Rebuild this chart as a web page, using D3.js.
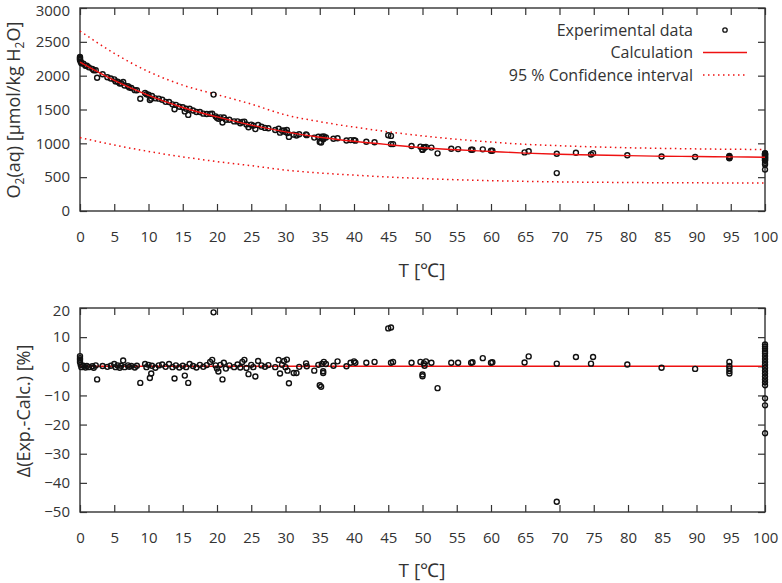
<!DOCTYPE html>
<html>
<head>
<meta charset="utf-8">
<script src="https://cdn.jsdelivr.net/npm/d3@7"></script>
<style>
  body { margin: 0; background: #fff; }
  svg text { font-family: "Open Sans", sans-serif; fill: #333; }
  .axis path { display: none; }
  .axis line { stroke: #333; stroke-width: 1.2; }
</style>
</head>
<body>
<svg id="chart" width="782" height="583"></svg>
<script>
// calculated solubility curve and 95 % band (every 5 degC)
var gridT   = [0,5,10,15,20,25,30,35,40,45,50,55,60,65,70,75,80,85,90,95,100];
var calcO2  = [2200,1930,1710,1530,1390,1270,1170,1090,1030,980,935,905,880,855,838,828,818,810,805,800,795];
var ciUpper = [2660,2330,2060,1860,1720,1580,1420,1320,1240,1170,1110,1060,1020,985,965,948,935,925,918,912,910];
var ciLower = [1085,975,880,800,730,670,605,562,530,503,480,462,448,438,430,425,421,418,416,415,414];

// experimental points: temperature, O2(aq), deviation in %
var expT = [0,0,0,0,0.1,0.2,0.5,0.8,1.0,1.3,1.8,2.0,2.3,2.5,3.3,4.0,4.5,5.0,5.2,5.5,
  5.8,6.0,6.3,6.5,7.0,7.2,7.5,8.0,8.3,8.8,9.5,9.7,10.0,10.2,10.4,10.5,11.0,11.5,12.0,12.5,
  13.0,13.5,13.8,14.0,14.5,15.0,15.3,15.5,15.8,16.0,16.5,17.0,17.5,18.0,18.5,19.0,19.3,19.5,19.8,20.0,
  20.2,20.5,20.8,21.0,21.3,21.8,22.5,23.0,23.4,23.7,24.0,24.3,24.6,25.0,25.3,25.6,26.0,26.5,27.0,27.5,
  28.5,29.0,29.2,29.5,29.8,30.0,30.2,30.3,30.5,31.2,31.6,32.0,33.0,33.1,34.2,34.8,35.0,35.2,35.3,35.5,
  35.5,35.6,35.9,37.0,37.6,38.9,39.5,40.0,40.2,41.8,43.0,45.0,45.4,45.4,45.7,48.4,49.7,50.0,50.0,50.2,
  50.3,50.5,51.3,52.2,54.2,55.2,57.1,57.3,58.8,60.0,60.2,64.9,65.5,69.6,69.6,72.4,74.6,74.9,79.9,84.9,
  89.8,94.8,94.8,94.8,94.8,94.8,
  100,100,100,100,100,100,100,100,100,100,100,100,100,100,100,100,100,100,100];
var expO2 = [2277,2262,2248,2233,2205,2183,2177,2147,2147,2123,2101,2080,2080,1970,2020,1976,1958,1945,1915,1910,
  1883,1887,1907,1855,1843,1825,1818,1786,1784,1658,1745,1725,1719,1640,1660,1700,1665,1660,1645,1613,
  1610,1576,1504,1568,1540,1533,1472,1510,1420,1512,1486,1464,1463,1439,1434,1436,1438,1720,1399,1379,
  1362,1384,1308,1381,1347,1349,1324,1324,1297,1317,1321,1278,1238,1276,1260,1210,1272,1244,1228,1224,
  1197,1216,1158,1185,1192,1166,1197,1151,1095,1128,1115,1135,1132,1121,1085,1098,1019,1013,1097,1068,
  1061,1101,1087,1068,1076,1042,1048,1048,1040,1024,1015,1120,1110,989,989,961,951,909,903,943,
  935,948,937,852,920,915,905,906,911,891,891,866,882,847,560,860,836,855,823,806,
  798,812,801,794,787,780,
  855,849,843,836,831,823,815,807,799,791,783,775,767,759,751,743,708,689,612];
var expDev = [3.5,2.8,2.2,1.5,0.5,-0.3,0.2,-0.4,0.1,-0.3,0.0,-0.5,0.3,-4.5,0.1,-0.2,0.2,0.8,-0.3,0.3,
  -0.5,0.2,2.0,-0.3,0.3,-0.2,0.1,-0.4,0.2,-5.7,0.8,-0.3,0.5,-4.0,-2.5,0.2,-0.5,0.3,0.6,-0.2,
  0.8,-0.3,-4.2,0.3,-0.4,0.2,-3.2,-0.3,-5.7,0.8,0.1,-0.4,0.5,-0.2,0.4,1.5,2.2,18.5,0.3,-0.8,
  -1.8,0.5,-4.5,1.2,-0.8,0.3,-0.3,0.6,-0.4,1.5,2.2,-0.6,-2.7,0.5,-0.3,-3.5,1.8,0.3,-0.2,0.4,
  -0.3,2.2,-2.5,0.5,1.8,-0.3,2.3,-1.5,-5.8,-2.3,-2.3,-0.2,1.0,0.0,-1.5,0.5,-6.5,-7.0,0.8,-1.7,
  -2.3,1.5,0.8,0.2,1.7,0.0,1.2,1.7,1.2,1.2,1.5,13.0,13.3,1.2,1.5,1.2,1.5,-2.8,-3.4,1.0,
  0.2,1.7,1.2,-7.5,1.2,1.2,1.2,1.4,2.8,1.2,1.4,1.3,3.4,0.9,-46.5,3.2,0.9,3.2,0.6,-0.5,
  -0.9,1.5,0.1,-0.7,-1.6,-2.5,
  7.5,6.8,6.0,5.2,4.5,3.5,2.5,1.5,0.5,-0.5,-1.5,-2.5,-3.5,-4.5,-5.5,-6.5,-11,-13.4,-23];

var xTicks = d3.range(0, 101, 5);
var topTicks = d3.range(0, 3001, 500);
var botTicks = d3.range(-50, 21, 10);
var legendLabels = ["Experimental data", "Calculation", "95 % Confidence interval"];

var svg = d3.select("#chart");
var left = 80, right = 765;
var red = "#ee1111";

var x = d3.scaleLinear().domain([0, 100]).range([left, right]);
var yTop = d3.scaleLinear().domain([0, 3000]).range([211, 8]);
var yBot = d3.scaleLinear().domain([-50, 20]).range([512, 308]);

function frame(y, ticks, fmt) {
  var y0 = y.range()[0], y1 = y.range()[1];
  svg.append("g").attr("class", "axis").attr("transform", "translate(0," + y0 + ")")
    .call(d3.axisBottom(x).tickValues(xTicks).tickSizeInner(-7).tickSizeOuter(0).tickPadding(20))
    .selectAll("text").attr("font-size", 15);
  svg.append("g").attr("class", "axis").attr("transform", "translate(0," + y1 + ")")
    .call(d3.axisTop(x).tickValues(xTicks).tickSizeInner(-7).tickSizeOuter(0).tickFormat(""));
  var ya = svg.append("g").attr("class", "axis").attr("transform", "translate(" + left + ",0)")
    .call(d3.axisLeft(y).tickValues(ticks).tickSizeInner(-7).tickSizeOuter(0).tickPadding(10).tickFormat(fmt));
  ya.selectAll("text").attr("font-size", 15)
    .attr("dy", function(d) { return d === ticks[ticks.length - 1] ? "0.5em" : "0.32em"; });
  svg.append("g").attr("class", "axis").attr("transform", "translate(" + right + ",0)")
    .call(d3.axisRight(y).tickValues(ticks).tickSizeInner(-7).tickSizeOuter(0).tickFormat(""));
  svg.append("rect").attr("x", left).attr("y", y1)
    .attr("width", right - left).attr("height", y0 - y1)
    .attr("fill", "none").attr("stroke", "#333").attr("stroke-width", 1.4);
}

frame(yTop, topTicks, d3.format("d"));
frame(yBot, botTicks, d3.format("d"));

// curves
function curve(vals, dash, w) {
  var line = d3.line().x(function(d, i) { return x(gridT[i]); })
    .y(function(d) { return yTop(d); }).curve(d3.curveMonotoneX);
  svg.append("path").datum(vals).attr("d", line)
    .attr("fill", "none").attr("stroke", red).attr("stroke-width", w)
    .attr("stroke-dasharray", dash);
}
curve(ciUpper, "1.5,3.5", 1.5);
curve(ciLower, "1.5,3.5", 1.5);

var pts = expT.map(function(t, i) { return {t: t, o2: expO2[i], dev: expDev[i]}; });

svg.append("g").selectAll("circle").data(pts).enter().append("circle")
  .attr("cx", function(d) { return x(d.t); })
  .attr("cy", function(d) { return yTop(d.o2); })
  .attr("r", 2.5).attr("fill", "none").attr("stroke", "#111").attr("stroke-width", 1.4);

curve(calcO2, null, 1.4);

// zero line and deviations
svg.append("line").attr("x1", left).attr("x2", right)
  .attr("y1", yBot(0)).attr("y2", yBot(0))
  .attr("stroke", red).attr("stroke-width", 1.4);

svg.append("g").selectAll("circle").data(pts).enter().append("circle")
  .attr("cx", function(d) { return x(d.t); })
  .attr("cy", function(d) { return yBot(d.dev); })
  .attr("r", 2.5).attr("fill", "none").attr("stroke", "#111").attr("stroke-width", 1.4);

// axis titles
svg.append("text").attr("x", 422).attr("y", 277).attr("text-anchor", "middle")
  .attr("font-size", 19).text("T [\u2103]");
svg.append("text").attr("x", 422).attr("y", 577).attr("text-anchor", "middle")
  .attr("font-size", 19).text("T [\u2103]");

var yt = svg.append("text").attr("transform", "translate(20,110) rotate(-90)")
  .attr("text-anchor", "middle").attr("font-size", 18);
yt.append("tspan").text("O");
yt.append("tspan").attr("font-size", 12).attr("dy", 4).text("2");
yt.append("tspan").attr("dy", -4).text("(aq) [\u03bcmol/kg H");
yt.append("tspan").attr("font-size", 12).attr("dy", 4).text("2");
yt.append("tspan").attr("dy", -4).text("O]");

svg.append("text").attr("transform", "translate(30,411) rotate(-90)")
  .attr("text-anchor", "middle").attr("font-size", 18).text("\u0394(Exp.-Calc.) [%]");

// legend
var lg = svg.append("g");
legendLabels.forEach(function(label, i) {
  var ly = 30 + i * 22.5;
  lg.append("text").attr("x", 693).attr("y", ly + 5.5).attr("text-anchor", "end")
    .attr("font-size", 16).text(label);
  if (i === 0) {
    lg.append("circle").attr("cx", 725).attr("cy", ly).attr("r", 2.2)
      .attr("fill", "none").attr("stroke", "#111").attr("stroke-width", 1.3);
  } else {
    lg.append("line").attr("x1", 703).attr("x2", 747).attr("y1", ly).attr("y2", ly)
      .attr("stroke", red).attr("stroke-width", i === 1 ? 1.4 : 1.5)
      .attr("stroke-dasharray", i === 1 ? null : "1.5,3.5");
  }
});
</script>
</body>
</html>
